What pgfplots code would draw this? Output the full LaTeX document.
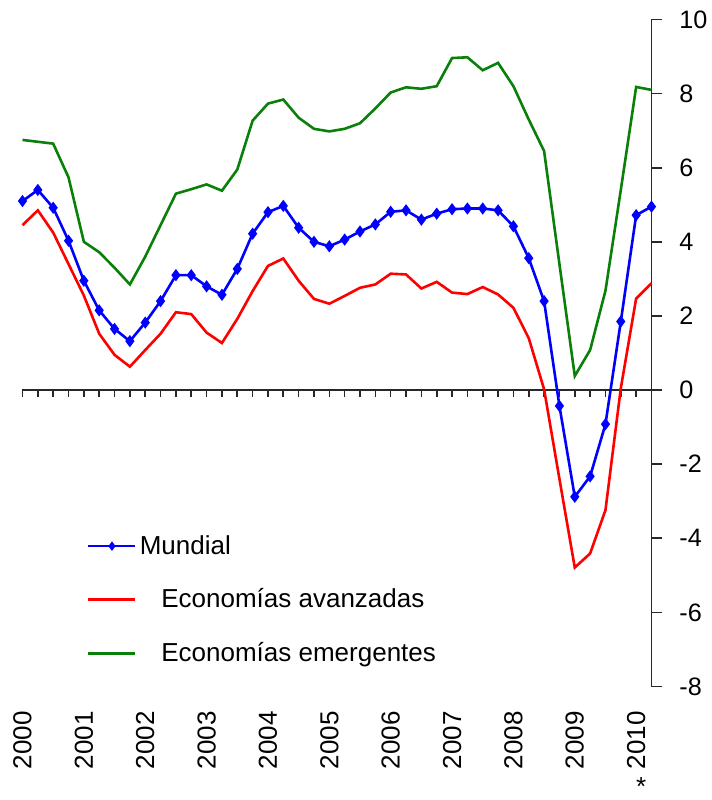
\documentclass[border=0pt]{standalone}
\usepackage{pgfplots}
\pgfplotsset{compat=1.18}
\usepackage{fontspec}
\setmainfont{Liberation Sans}
\definecolor{cblue}{RGB}{0,0,255}
\definecolor{cred}{RGB}{255,0,0}
\definecolor{cgreen}{RGB}{10,128,10}
\definecolor{axgray}{RGB}{40,40,40}
\begin{document}
\begin{tikzpicture}
\useasboundingbox (-11.25pt,-56.75pt) rectangle (344.75pt,343.25pt);
\pgfplotsset{common/.style={
  scale only axis, width=314.5pt, height=333.5pt,
  xmin=0, xmax=41, ymin=-8, ymax=10, anchor=south west, at={(0,0)}}}
% zero line with quarterly ticks
\begin{axis}[common,
  axis x line=middle, axis y line=none,
  x axis line style={-, axgray, line width=0.8pt},
  xtick={0,1,...,41}, xticklabels={},
  tick align=outside, major tick length=3.5pt,
  xtick style={axgray, line width=0.8pt},
]
\end{axis}
\begin{axis}[common, clip=false,
  axis x line=bottom, axis y line=right,
  x axis line style={draw=none},
  y axis line style={-, axgray, line width=0.8pt},
  xtick={0,4,...,40},
  xticklabels={2000,2001,2002,2003,2004,2005,2006,2007,2008,2009,2010},
  xtick style={draw=none},
  xticklabel style={rotate=90, anchor=east, inner sep=0pt, font=\fontsize{13}{15.6}\selectfont},
  xticklabel shift=6.75pt,
  ytick={-8,-6,-4,-2,0,2,4,6,8,10},
  yticklabels={-8,-6,-4,-2,0,2,4,6,8,10},
  ytick style={axgray, line width=0.8pt},
  tick align=outside, major tick length=5.5pt,
  yticklabel style={anchor=west, inner sep=0pt, font=\fontsize{12.6}{15}\selectfont},
  yticklabel shift=8.25pt,
  legend cell align=left,
  legend style={draw=none, fill=none, at={(axis cs:4.19,-5.66)}, anchor=west,
    font=\fontsize{13}{15.6}\selectfont, row sep=12.75pt, inner sep=0pt,
    nodes={inner sep=1.5pt}, column sep=0pt},
  legend image code/.code={\draw[mark repeat=2, mark phase=2, #1, mark size=1.3pt] plot coordinates {(0pt,0pt) (11.75pt,0pt) (23.5pt,0pt)};},
]
\addplot[cblue, line width=1.3pt, mark=diamond*, mark size=2pt] coordinates {
(0,5.1)(1,5.4)(2,4.92)(3,4.03)(4,2.95)(5,2.15)(6,1.65)(7,1.32)(8,1.82)(9,2.4)
(10,3.1)(11,3.1)(12,2.8)(13,2.57)(14,3.27)(15,4.22)(16,4.8)(17,4.97)(18,4.38)(19,4.0)
(20,3.88)(21,4.06)(22,4.28)(23,4.47)(24,4.81)(25,4.85)(26,4.6)(27,4.76)(28,4.88)(29,4.9)
(30,4.9)(31,4.85)(32,4.42)(33,3.56)(34,2.4)(35,-0.43)(36,-2.88)(37,-2.33)(38,-0.92)(39,1.85)
(40,4.72)(41,4.95)};
\addlegendentry{Mundial}
\addplot[cred, line width=1.3pt] coordinates {
(0,4.45)(1,4.85)(2,4.25)(3,3.4)(4,2.55)(5,1.52)(6,0.95)(7,0.63)(8,1.08)(9,1.52)
(10,2.1)(11,2.05)(12,1.55)(13,1.27)(14,1.92)(15,2.67)(16,3.35)(17,3.55)(18,2.95)(19,2.46)
(20,2.33)(21,2.54)(22,2.76)(23,2.85)(24,3.14)(25,3.12)(26,2.74)(27,2.92)(28,2.63)(29,2.59)
(30,2.78)(31,2.58)(32,2.22)(33,1.4)(34,0.02)(35,-2.4)(36,-4.79)(37,-4.41)(38,-3.24)(39,0.05)
(40,2.47)(41,2.88)};
\addlegendentry{\hspace*{10.8pt}Economías avanzadas}
\addplot[cgreen, line width=1.3pt] coordinates {
(0,6.75)(1,6.7)(2,6.65)(3,5.74)(4,4.0)(5,3.72)(6,3.3)(7,2.85)(8,3.6)(9,4.45)
(10,5.3)(11,5.42)(12,5.55)(13,5.38)(14,5.95)(15,7.27)(16,7.73)(17,7.84)(18,7.35)(19,7.05)
(20,6.98)(21,7.05)(22,7.2)(23,7.6)(24,8.03)(25,8.17)(26,8.13)(27,8.2)(28,8.96)(29,8.98)
(30,8.63)(31,8.83)(32,8.2)(33,7.3)(34,6.45)(35,3.4)(36,0.38)(37,1.08)(38,2.68)(39,5.4)
(40,8.18)(41,8.1)};
\addlegendentry{\hspace*{10.8pt}Economías emergentes}
\node[anchor=north, inner sep=0pt, xshift=2.5pt, yshift=-45.5pt, font=\fontsize{13}{15.6}\selectfont] at (axis cs:40,-8) {*};
\end{axis}
\end{tikzpicture}
\end{document}
